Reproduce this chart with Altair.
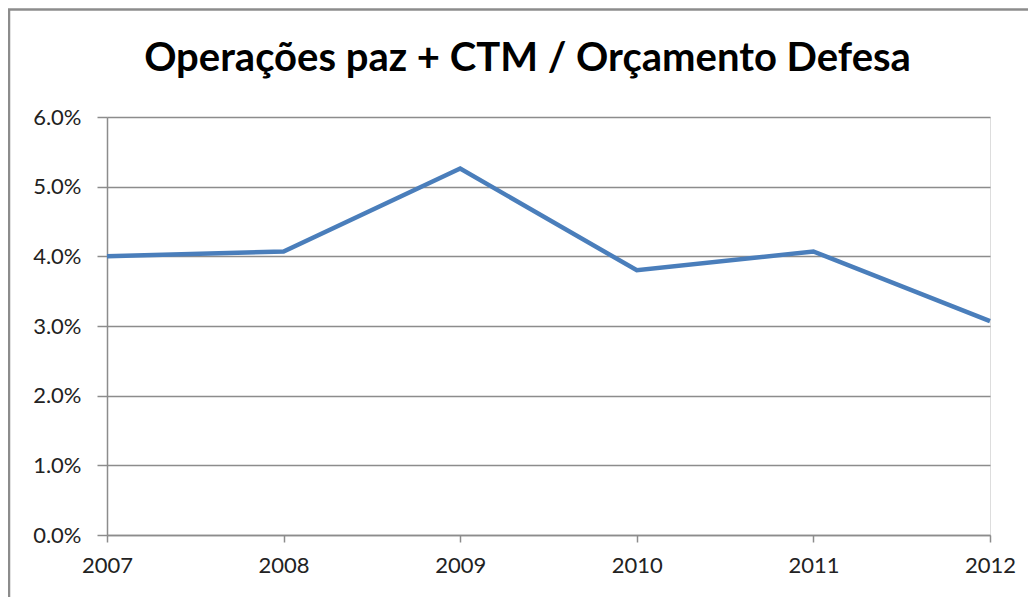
import altair as alt
import pandas as pd

years = ["2007", "2008", "2009", "2010", "2011", "2012"]
values = [0.0400, 0.0407, 0.0526, 0.0380, 0.0407, 0.0307]
y_ticks = [0.0, 0.01, 0.02, 0.03, 0.04, 0.05, 0.06]
title_text = ["Operações paz + CTM / Orçamento Defesa"]

df = pd.DataFrame({"year": years, "value": values})
title_df = pd.DataFrame({"t": title_text})

FONT = "Lato"
GRID = "#8c8c8c"

line = alt.Chart(df).mark_line(color="#4A7EBB", strokeWidth=4.5, strokeJoin="miter").encode(
    x=alt.X("year:O", title=None, sort=years,
            scale=alt.Scale(padding=0),
            axis=alt.Axis(labelAngle=0, labelFontSize=22, labelFont=FONT, labelColor="#222",
                          tickSize=7, tickColor=GRID, tickWidth=1.5,
                          domainColor=GRID, domainWidth=1.5, labelPadding=13, grid=False)),
    y=alt.Y("value:Q", title=None,
            scale=alt.Scale(domain=[0, 0.06], nice=False),
            axis=alt.Axis(values=y_ticks, format=".1%", labelFontSize=22, labelFont=FONT,
                          labelColor="#222", tickSize=10, tickColor=GRID, tickWidth=1.5,
                          domainColor=GRID, domainWidth=1.5, labelPadding=16,
                          grid=True, gridColor=GRID, gridWidth=1.5)),
)

title = alt.Chart(title_df).mark_text(
    font=FONT, fontSize=40, fontWeight="bold", color="#000", align="center", baseline="alphabetic"
).encode(text="t:N", x=alt.value(420.5), y=alt.value(-46))

frame_top = alt.Chart(title_df).mark_rule(color="#8c8c8c", strokeWidth=2.5).encode(
    x=alt.value(-99), x2=alt.value(960), y=alt.value(-107.5)
)
frame_left = alt.Chart(title_df).mark_rule(color="#8c8c8c", strokeWidth=2.5).encode(
    x=alt.value(-98), y=alt.value(-108), y2=alt.value(480)
)

chart = alt.layer(frame_top, frame_left, title, line).properties(
    width=883,
    height=418,
    autosize=alt.AutoSizeParams(type="none"),
    padding={"left": 99, "top": 109, "right": 38, "bottom": 66},
).configure_view(stroke=None).configure(background="white")

chart.save("out.html", embed_options={"renderer": "svg", "actions": False})
